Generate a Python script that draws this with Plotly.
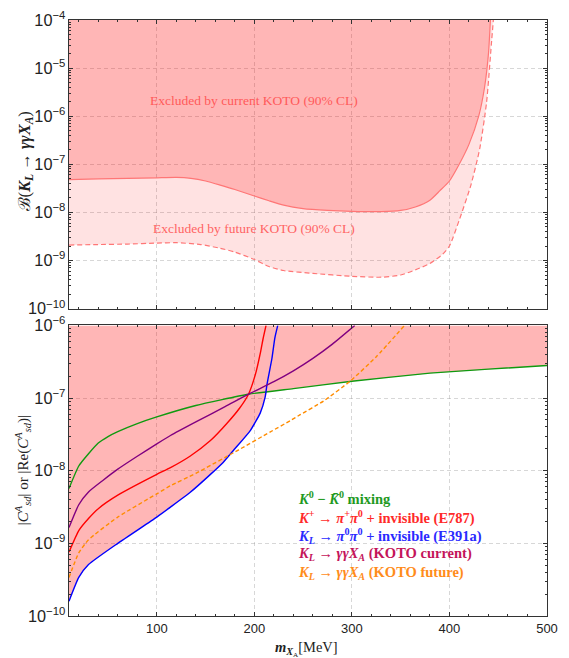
import numpy as np
import plotly.graph_objects as go

# ---- upper panel: KOTO limits on B(K_L -> gamma gamma X_A) ----
m_cur = [10, 40, 70, 100, 120, 135, 150, 165, 180, 200, 215, 230, 250, 275, 300,
         330, 350, 365, 380, 390, 400, 410, 420, 430, 436, 440, 442]
br_cur = [4.8e-8, 5.0e-8, 5.1e-8, 5.25e-8, 5.35e-8, 5.1e-8, 4.5e-8, 3.7e-8, 3.0e-8,
          2.2e-8, 1.75e-8, 1.42e-8, 1.2e-8, 1.1e-8, 1.05e-8, 1.04e-8, 1.1e-8, 1.3e-8,
          1.8e-8, 2.8e-8, 4.5e-8, 1.0e-7, 2.6e-7, 1.0e-6, 4e-6, 2e-5, 1e-4]

m_fut = [10, 40, 70, 100, 120, 145, 165, 180, 200, 215, 230, 260, 300, 330, 350,
         365, 380, 393, 400, 410, 422, 431, 438, 443, 445]
br_fut = [2.1e-9, 2.15e-9, 2.2e-9, 2.3e-9, 2.35e-9, 2.15e-9, 1.8e-9, 1.5e-9, 1.05e-9,
          7.5e-10, 6.2e-10, 5.4e-10, 4.7e-10, 4.5e-10, 5.0e-10, 6.4e-10, 8.7e-10,
          1.35e-9, 2.0e-9, 6.9e-9, 3.7e-8, 2.1e-7, 1.9e-6, 3.2e-5, 1e-4]

# ---- lower panel: bounds on |C^A_sd| ----
m_mix = [10, 20, 30, 40, 50, 60, 80, 100, 140, 194, 240, 300, 380, 440, 500]
c_mix = [5.7e-9, 1.16e-8, 1.71e-8, 2.4e-8, 2.95e-8, 3.45e-8, 4.45e-8, 5.5e-8, 7.9e-8,
         1.13e-7, 1.35e-7, 1.7e-7, 2.2e-7, 2.5e-7, 2.8e-7]

m_e787 = [10, 20, 30, 40, 60, 100, 114, 134, 155, 172, 185, 194, 201, 206.5, 209, 212]
c_e787 = [7.6e-10, 1.5e-9, 2.2e-9, 3.0e-9, 4.6e-9, 8.9e-9, 1.1e-8, 1.58e-8, 2.6e-8,
          4.5e-8, 7.3e-8, 1.13e-7, 2.1e-7, 4.4e-7, 6.6e-7, 1e-6]

m_e391 = [10, 20, 30, 60, 100, 114, 134, 155, 168, 180, 196, 206, 211, 213, 218, 221, 224]
c_e391 = [1.6e-10, 3.4e-10, 5.1e-10, 1.0e-9, 2.3e-9, 3.15e-9, 5.0e-9, 8.9e-9, 1.3e-8,
          2.0e-8, 3.6e-8, 6.2e-8, 1.02e-7, 1.55e-7, 3.5e-7, 6.7e-7, 1e-6]

m_kcur = [10, 20, 30, 45, 60, 80, 100, 114, 140, 170, 194, 220, 240, 260, 280, 303]
c_kcur = [1.65e-9, 3.4e-9, 5.1e-9, 7.4e-9, 1.05e-8, 1.58e-8, 2.34e-8, 3.05e-8, 4.7e-8,
          7.6e-8, 1.13e-7, 1.68e-7, 2.37e-7, 3.52e-7, 5.53e-7, 1e-6]

m_kfut = [10, 20, 30, 60, 100, 114, 140, 184, 216, 237, 247, 271, 298, 325, 354]
c_kfut = [3.4e-10, 7.4e-10, 1.12e-9, 2.3e-9, 4.8e-9, 6.2e-9, 9.2e-9, 1.94e-8,
          3.4e-8, 4.9e-8, 5.9e-8, 9.1e-8, 1.7e-7, 3.7e-7, 1e-6]

legend_labels = [
    "<b><i>K</i><sup>0</sup> − <i>K̄</i><sup>0</sup> mixing</b>",
    "<b><i>K</i><sup>+</sup> → <i>π</i><sup>+</sup><i>π</i><sup>0</sup> + invisible (E787)</b>",
    "<b><i>K</i><sub><i>L</i></sub> → <i>π</i><sup>0</sup><i>π</i><sup>0</sup> + invisible (E391a)</b>",
    "<b><i>K</i><sub><i>L</i></sub> → <i>γγX</i><sub><i>A</i></sub> (KOTO current)</b>",
    "<b><i>K</i><sub><i>L</i></sub> → <i>γγX</i><sub><i>A</i></sub> (KOTO future)</b>",
]
legend_colors = ["#1f9a1f", "#ff2a2a", "#2a2aff", "#c4145a", "#ff8c1a"]

Y_TOP = 1e-4
Y_TOP2 = 1e-6
X_MIN, X_MAX = 10, 500

RED_LINE = "rgb(255,118,118)"
DARK_FILL = "rgba(255,0,0,0.285)"
LIGHT_FILL = "rgba(255,0,0,0.115)"

fig = go.Figure()

# future KOTO boundary (dashed) and light band up to the current boundary
fig.add_trace(go.Scatter(x=m_fut, y=br_fut, mode="lines", xaxis="x", yaxis="y",
                         line=dict(color=RED_LINE, width=1.2, dash="5px,3px",
                                   shape="spline", smoothing=0.6),
                         hoverinfo="skip"))
fig.add_trace(go.Scatter(x=m_cur, y=br_cur, mode="lines", xaxis="x", yaxis="y",
                         fill="tonexty", fillcolor=LIGHT_FILL,
                         line=dict(color=RED_LINE, width=1.2,
                                   shape="spline", smoothing=0.6),
                         hoverinfo="skip"))
# dark band above the current boundary
fig.add_trace(go.Scatter(x=[m_cur[0], m_cur[-1]], y=[Y_TOP, Y_TOP], mode="lines",
                         xaxis="x", yaxis="y", fill="tonexty", fillcolor=DARK_FILL,
                         line=dict(width=0, color="rgba(0,0,0,0)"), hoverinfo="skip"))

# lower panel: excluded region above the strongest of E391a and mixing
grid_m = np.array(sorted(set(m_mix) | set(m_e391)), dtype=float)
log_mix = np.interp(grid_m, m_mix, np.log10(c_mix))
log_e391 = np.interp(grid_m, m_e391, np.log10(c_e391), right=np.inf)
env = 10 ** np.minimum(log_mix, log_e391)
fig.add_trace(go.Scatter(x=list(grid_m) + [grid_m[-1], grid_m[0]],
                         y=list(env) + [Y_TOP2, Y_TOP2],
                         mode="lines", xaxis="x2", yaxis="y2", fill="toself",
                         fillcolor=DARK_FILL, line=dict(width=0, color="rgba(0,0,0,0)"),
                         hoverinfo="skip"))

series = [(m_mix, c_mix, "solid"), (m_e787, c_e787, "solid"), (m_e391, c_e391, "solid"),
          (m_kcur, c_kcur, "solid"), (m_kfut, c_kfut, "4px,2.5px")]
line_colors = ["#109a10", "#ff0000", "#0000ff", "#800080", "#ff8c00"]
for (mx, cy, dash), col in zip(series, line_colors):
    fig.add_trace(go.Scatter(x=mx, y=cy, mode="lines", xaxis="x2", yaxis="y2",
                             line=dict(color=col, width=1.4, dash=dash,
                                       shape="spline", smoothing=0.5),
                             hoverinfo="skip"))

frame = dict(showline=True, linecolor="#333333", linewidth=1, mirror="allticks",
             ticks="inside", tickcolor="#333333", showgrid=True,
             gridcolor="rgba(150,150,150,0.38)", griddash="4px,3px", gridwidth=1,
             zeroline=False, tickfont=dict(family="Liberation Sans", size=13, color="#222222"))

fig.update_layout(
    width=569, height=658,
    margin=dict(l=69, r=22, t=9, b=42),
    paper_bgcolor="white", plot_bgcolor="white",
    showlegend=False,
    xaxis=dict(frame, domain=[0, 1], anchor="y", range=[X_MIN, X_MAX],
               tickvals=[100, 200, 300, 400], showticklabels=False, ticklen=4,
               minor=dict(ticks="inside", dtick=20, ticklen=2, tickcolor="#333333",
                          showgrid=False)),
    yaxis=dict(frame, domain=[0.5157, 1], anchor="x", type="log", range=[-10, -4],
               dtick=1, exponentformat="power", ticklen=4,
               minor=dict(ticks="inside", dtick="D1", ticklen=2, tickcolor="#333333",
                          showgrid=False)),
    xaxis2=dict(frame, domain=[0, 1], anchor="y2", range=[X_MIN, X_MAX],
                tickvals=[100, 200, 300, 400, 500], ticklen=4,
                minor=dict(ticks="inside", dtick=20, ticklen=2, tickcolor="#333333",
                           showgrid=False)),
    yaxis2=dict(frame, domain=[0, 0.4876], anchor="x2", type="log", range=[-10, -6],
                dtick=1, exponentformat="power", ticklen=4,
                minor=dict(ticks="inside", dtick="D1", ticklen=2, tickcolor="#333333",
                           showgrid=False)),
)

serif = "Liberation Serif, Times New Roman, serif"
ann = [
    dict(text="Excluded by current KOTO (90% CL)", x=0.387, y=0.865,
         font=dict(family=serif, size=13.5, color="rgb(255,90,90)")),
    dict(text="Excluded by future KOTO (90% CL)", x=0.387, y=0.651,
         font=dict(family=serif, size=13.5, color="rgb(255,100,100)")),
    dict(text="ℬ(<b><i>K</i></b><sub><b><i>L</i></b></sub> → <b><i>γγX</i></b><sub><b><i>A</i></b></sub>)",
         x=-0.093, y=0.762, textangle=-90,
         font=dict(family=serif, size=16.5, color="#222222")),
    dict(text="|<i>C</i><sup><i>A</i></sup><sub><i>sd</i></sub>| or |Re(<i>C</i><sup><i>A</i></sup><sub><i>sd</i></sub>)|",
         x=-0.097, y=0.244, textangle=-90,
         font=dict(family=serif, size=15, color="#222222")),
    dict(text="<b><i>m</i></b><sub><b><i>X</i></b><sub>A</sub></sub>[MeV]", x=0.497, y=-0.055,
         font=dict(family=serif, size=14.5, color="#222222")),
]
for a in ann:
    fig.add_annotation(xref="paper", yref="paper", showarrow=False,
                       xanchor="center", yanchor="middle", **a)

leg_y = [0.198, 0.166, 0.135, 0.104, 0.0725]
for txt, col, yy in zip(legend_labels, legend_colors, leg_y):
    fig.add_annotation(xref="paper", yref="paper", x=0.475, y=yy, showarrow=False,
                       xanchor="left", yanchor="middle", text=txt,
                       font=dict(family=serif, size=14.5, color=col))

fig.write_html("out.html")
